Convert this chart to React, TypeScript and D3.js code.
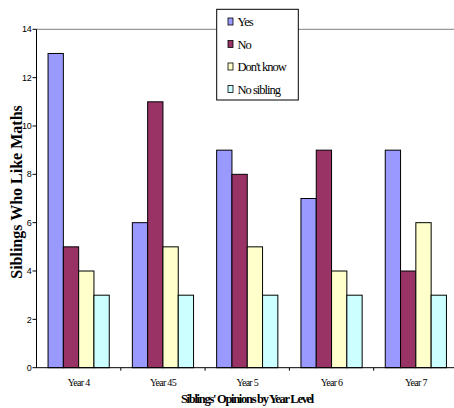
import React from "react";
import * as d3 from "d3";

const categories = ["Year 4", "Year 45", "Year 5", "Year 6", "Year 7"];
const seriesNames = ["Yes", "No", "Don't know", "No sibling"];
const seriesColors = ["#9999FF", "#993366", "#FFFFCC", "#CCFFFF"];
const yesValues = [13, 6, 9, 7, 9];
const noValues = [5, 11, 8, 9, 4];
const dontKnowValues = [4, 5, 5, 4, 6];
const noSiblingValues = [3, 3, 3, 3, 3];
const yTicks = [0, 2, 4, 6, 8, 10, 12, 14];

const W = 454;
const H = 408;

export default function App() {
  const series = [yesValues, noValues, dontKnowValues, noSiblingValues];
  const left = 36.5;
  const right = 458;
  const top = 29.3;
  const bottom = 367.7;
  const x0 = d3.scaleBand<string>().domain(categories).range([left, right]).padding(0);
  const x1 = d3
    .scaleBand<string>()
    .domain(seriesNames)
    .range([0, x0.bandwidth()])
    .paddingInner(0)
    .paddingOuter(0.755);
  const y = d3.scaleLinear().domain([0, 14]).range([bottom, top]);

  return (
    <svg width={W} height={H} style={{ position: "absolute", left: 0, top: 0, background: "#fff" }}>
      {/* top gridline */}
      <line x1={left} x2={W} y1={y(14)} y2={y(14)} stroke="#808080" strokeWidth={1} />
      {/* bars */}
      {categories.map((c, ci) =>
        seriesNames.map((s, si) => (
          <rect
            key={c + s}
            x={(x0(c) as number) + (x1(s) as number)}
            y={y(series[si][ci])}
            width={x1.bandwidth()}
            height={y(0) - y(series[si][ci])}
            fill={seriesColors[si]}
            stroke="#000"
            strokeWidth={1}
          />
        ))
      )}
      {/* y axis */}
      <line x1={left} x2={left} y1={top} y2={bottom} stroke="#000" strokeWidth={1} />
      {yTicks.map((t) => (
        <g key={t}>
          <line x1={left - 4} x2={left} y1={y(t)} y2={y(t)} stroke="#000" />
          <text
            x={left - 5}
            y={y(t)}
            dy="0.35em"
            textAnchor="end"
            fontFamily="Liberation Sans, Arial, sans-serif"
            fontSize={9}
            letterSpacing={-0.3}
            fill="#000"
          >
            {t}
          </text>
        </g>
      ))}
      {/* x axis */}
      <line x1={left} x2={W} y1={bottom} y2={bottom} stroke="#000" strokeWidth={1} />
      {categories.slice(1).map((c) => (
        <line key={c} x1={x0(c) as number} x2={x0(c) as number} y1={bottom} y2={bottom + 3} stroke="#000" />
      ))}
      {categories.map((c) => (
        <text
          key={c}
          x={(x0(c) as number) + x0.bandwidth() / 2}
          y={386}
          textAnchor="middle"
          fontFamily="Liberation Serif, Times New Roman, serif"
          fontSize={10}
          letterSpacing={-0.7}
          fill="#000"
        >
          {c}
        </text>
      ))}
      <text
        x={247}
        y={402.5}
        textAnchor="middle"
        fontFamily="Liberation Serif, Times New Roman, serif"
        fontWeight="bold"
        fontSize={12.5}
        letterSpacing={-1.3}
        fill="#000"
      >
        Siblings' Opinions by Year Level
      </text>
      <text
        transform={`translate(21.5,${192}) rotate(-90)`}
        textAnchor="middle"
        fontFamily="Liberation Serif, Times New Roman, serif"
        fontWeight="bold"
        fontSize={16}
        fill="#000"
      >
        Siblings Who Like Maths
      </text>
      {/* legend */}
      <rect x={216.7} y={9.3} width={81.6} height={90.7} fill="#fff" stroke="#000" strokeWidth={1} />
      {seriesNames.map((s, i) => (
        <g key={s} transform={`translate(0,${22 + i * 22.5})`}>
          <rect x={228} y={-4} width={5} height={7} fill={seriesColors[i]} stroke="#000" strokeWidth={0.8} />
          <text
            x={237.5}
            y={0}
            dy="0.35em"
            fontFamily="Liberation Serif, Times New Roman, serif"
            fontSize={12.5}
            letterSpacing={-1}
            fill="#000"
          >
            {s}
          </text>
        </g>
      ))}
    </svg>
  );
}
